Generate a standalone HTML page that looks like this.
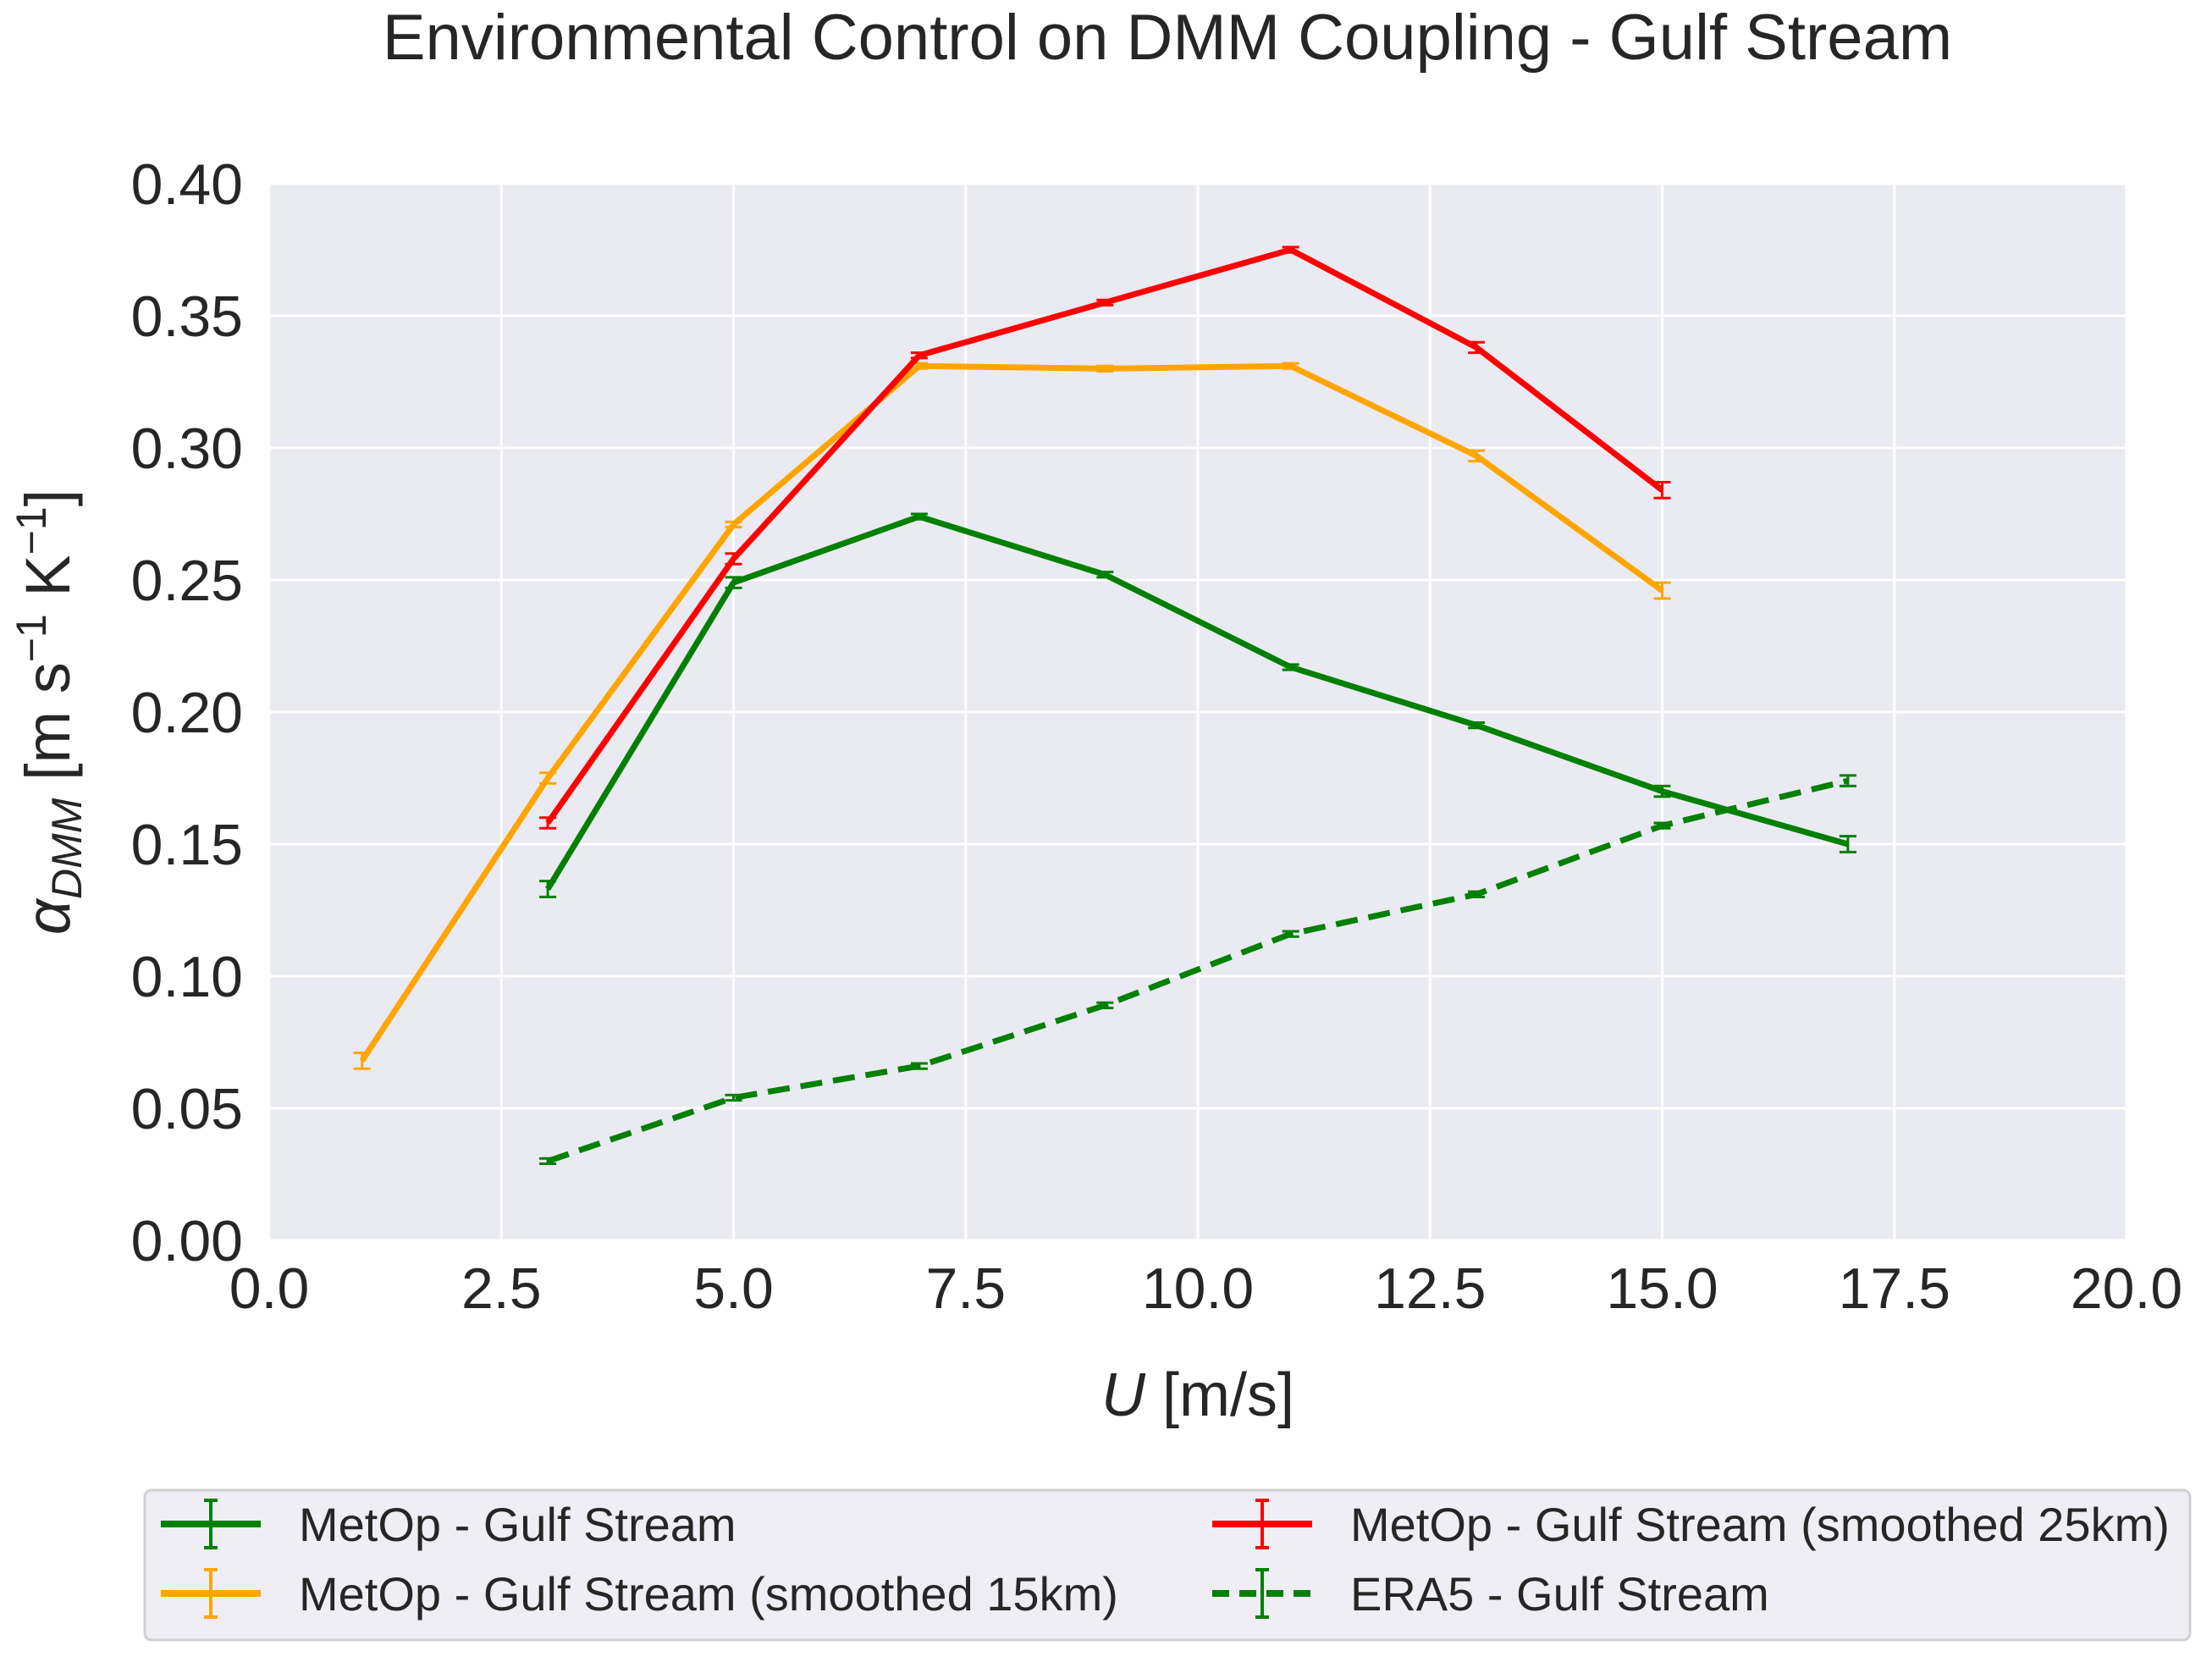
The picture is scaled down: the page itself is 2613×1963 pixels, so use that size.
<!DOCTYPE html>
<html><head><meta charset="utf-8"><style>
html,body{margin:0;padding:0;background:#fff;}
svg{display:block;font-family:"Liberation Sans",Arial,sans-serif;}
</style></head><body>
<svg id="chart" width="2613" height="1963" viewBox="0 0 2613 1963" xmlns="http://www.w3.org/2000/svg">
<text x="1379" y="70" font-size="76" text-anchor="middle" fill="#262626">Environmental Control on DMM Coupling - Gulf Stream</text>
<rect x="318" y="217" width="2194" height="1248" fill="#eaeaf2"/>
<g id="grid"></g>
<g id="ticks"></g>
<g id="series"></g>
<text x="1415" y="1672" font-size="72" text-anchor="middle" fill="#262626"><tspan font-style="italic">U</tspan> [m/s]</text>
<text transform="translate(82,841) rotate(-90)" font-size="74" text-anchor="middle" fill="#262626"><tspan font-style="italic">α</tspan><tspan font-style="italic" font-size="50" dy="14">DMM</tspan><tspan dy="-14"> [m s</tspan><tspan font-size="50" dy="-28">−1</tspan><tspan dy="28"> K</tspan><tspan font-size="50" dy="-28">−1</tspan><tspan dy="28">]</tspan></text>
<g>
<rect x="171" y="1760" width="2416" height="177" rx="8" fill="#eeeef4" stroke="#d0d0d0" stroke-width="3"/>
<g id="legend-items"></g>
</g>
</svg>
<script>
const xTicks=[0,2.5,5,7.5,10,12.5,15,17.5,20];
const xTickLabels=["0.0","2.5","5.0","7.5","10.0","12.5","15.0","17.5","20.0"];
const yTicks=[0,0.05,0.1,0.15,0.2,0.25,0.3,0.35,0.4];
const yTickLabels=["0.00","0.05","0.10","0.15","0.20","0.25","0.30","0.35","0.40"];
const greenX=[3,5,7,9,11,13,15,17];
const greenY=[0.133,0.249,0.274,0.252,0.217,0.195,0.170,0.150];
const greenErr=[0.003,0.002,0.001,0.001,0.001,0.001,0.002,0.003];
const orangeX=[1,3,5,7,9,11,13,15];
const orangeY=[0.068,0.175,0.271,0.331,0.330,0.331,0.297,0.246];
const orangeErr=[0.003,0.002,0.001,0.001,0.001,0.001,0.002,0.003];
const redX=[3,5,7,9,11,13,15];
const redY=[0.158,0.258,0.335,0.355,0.375,0.338,0.284];
const redErr=[0.002,0.002,0.001,0.001,0.001,0.002,0.003];
const eraX=[3,5,7,9,11,13,15,17];
const eraY=[0.030,0.054,0.066,0.089,0.116,0.131,0.157,0.174];
const eraErr=[0.001,0.001,0.001,0.001,0.001,0.001,0.001,0.002];
const legendLabels=["MetOp - Gulf Stream","MetOp - Gulf Stream (smoothed 25km)","MetOp - Gulf Stream (smoothed 15km)","ERA5 - Gulf Stream"];

const NS="http://www.w3.org/2000/svg";
const X0=318,X1=2512,Y0=1465,Y1=217;
const sx=v=>X0+(v-0)/(20-0)*(X1-X0);
const sy=v=>Y0-(v-0)/(0.4-0)*(Y0-Y1);
function mk(tag,attrs,parent){const e=document.createElementNS(NS,tag);for(const k in attrs)e.setAttribute(k,attrs[k]);parent.appendChild(e);return e;}
const grid=document.getElementById('grid'),ticks=document.getElementById('ticks'),series=document.getElementById('series');
xTicks.forEach((t,i)=>{
  const l=mk('line',{x1:sx(t),x2:sx(t),y1:Y1,y2:Y0,stroke:'#fff','stroke-width':3},grid);
  
  
  const tx=mk('text',{x:sx(t),y:Y0+80,'font-size':68,'text-anchor':'middle',fill:'#262626'},ticks);
  tx.textContent=xTickLabels[i];
  
  
});
yTicks.forEach((t,i)=>{
  const l=mk('line',{x1:X0,x2:X1,y1:sy(t),y2:sy(t),stroke:'#fff','stroke-width':3},grid);
  
  
  const tx=mk('text',{x:X0-31,y:sy(t)+24,'font-size':68,'text-anchor':'end',fill:'#262626'},ticks);
  tx.textContent=yTickLabels[i];
  
  
});
function drawSeries(xs,ys,es,color,dash,name){
  const g=mk('g',{},series);
  
  
  const pts=xs.map((x,i)=>sx(x)+','+sy(ys[i])).join(' ');
  const p=mk('polyline',{points:pts,fill:'none',stroke:color,'stroke-width':7,'stroke-linejoin':'round','stroke-dasharray':dash||'none'},g);
  
  
  xs.forEach((x,i)=>{
    const cx=sx(x),a=sy(ys[i]+es[i]),b=sy(ys[i]-es[i]);
    const e=mk('path',{d:`M${cx},${a}V${b}M${cx-10},${a}H${cx+10}M${cx-10},${b}H${cx+10}`,stroke:color,'stroke-width':3,fill:'none'},g);
    
    
  });
}
drawSeries(orangeX,orangeY,orangeErr,'#ffa500',null,'series-metop-15km');
drawSeries(redX,redY,redErr,'#ff0000',null,'series-metop-25km');
drawSeries(greenX,greenY,greenErr,'#008000',null,'series-metop');
drawSeries(eraX,eraY,eraErr,'#008000','26,13','series-era5');

const li=document.getElementById('legend-items');
const legColors=['#008000','#ff0000','#ffa500','#008000'];
const legDash=[null,null,null,'20,12'];
const legPos=[[190,1800],[1432,1800],[190,1882],[1432,1882]];
legendLabels.forEach((lab,i)=>{
  const [x,y]=legPos[i];
  const g=mk('g',{},li);
  
  
  mk('line',{x1:x,x2:x+118,y1:y,y2:y,stroke:legColors[i],'stroke-width':8,'stroke-dasharray':legDash[i]||'none'},g);
  mk('path',{d:`M${x+59},${y-28}V${y+28}M${x+51},${y-28}H${x+67}M${x+51},${y+28}H${x+67}`,stroke:legColors[i],'stroke-width':4,fill:'none'},g);
  const t=mk('text',{x:x+163,y:y+20,'font-size':56,fill:'#262626'},g);
  t.textContent=lab;
});
</script>
</body></html>
